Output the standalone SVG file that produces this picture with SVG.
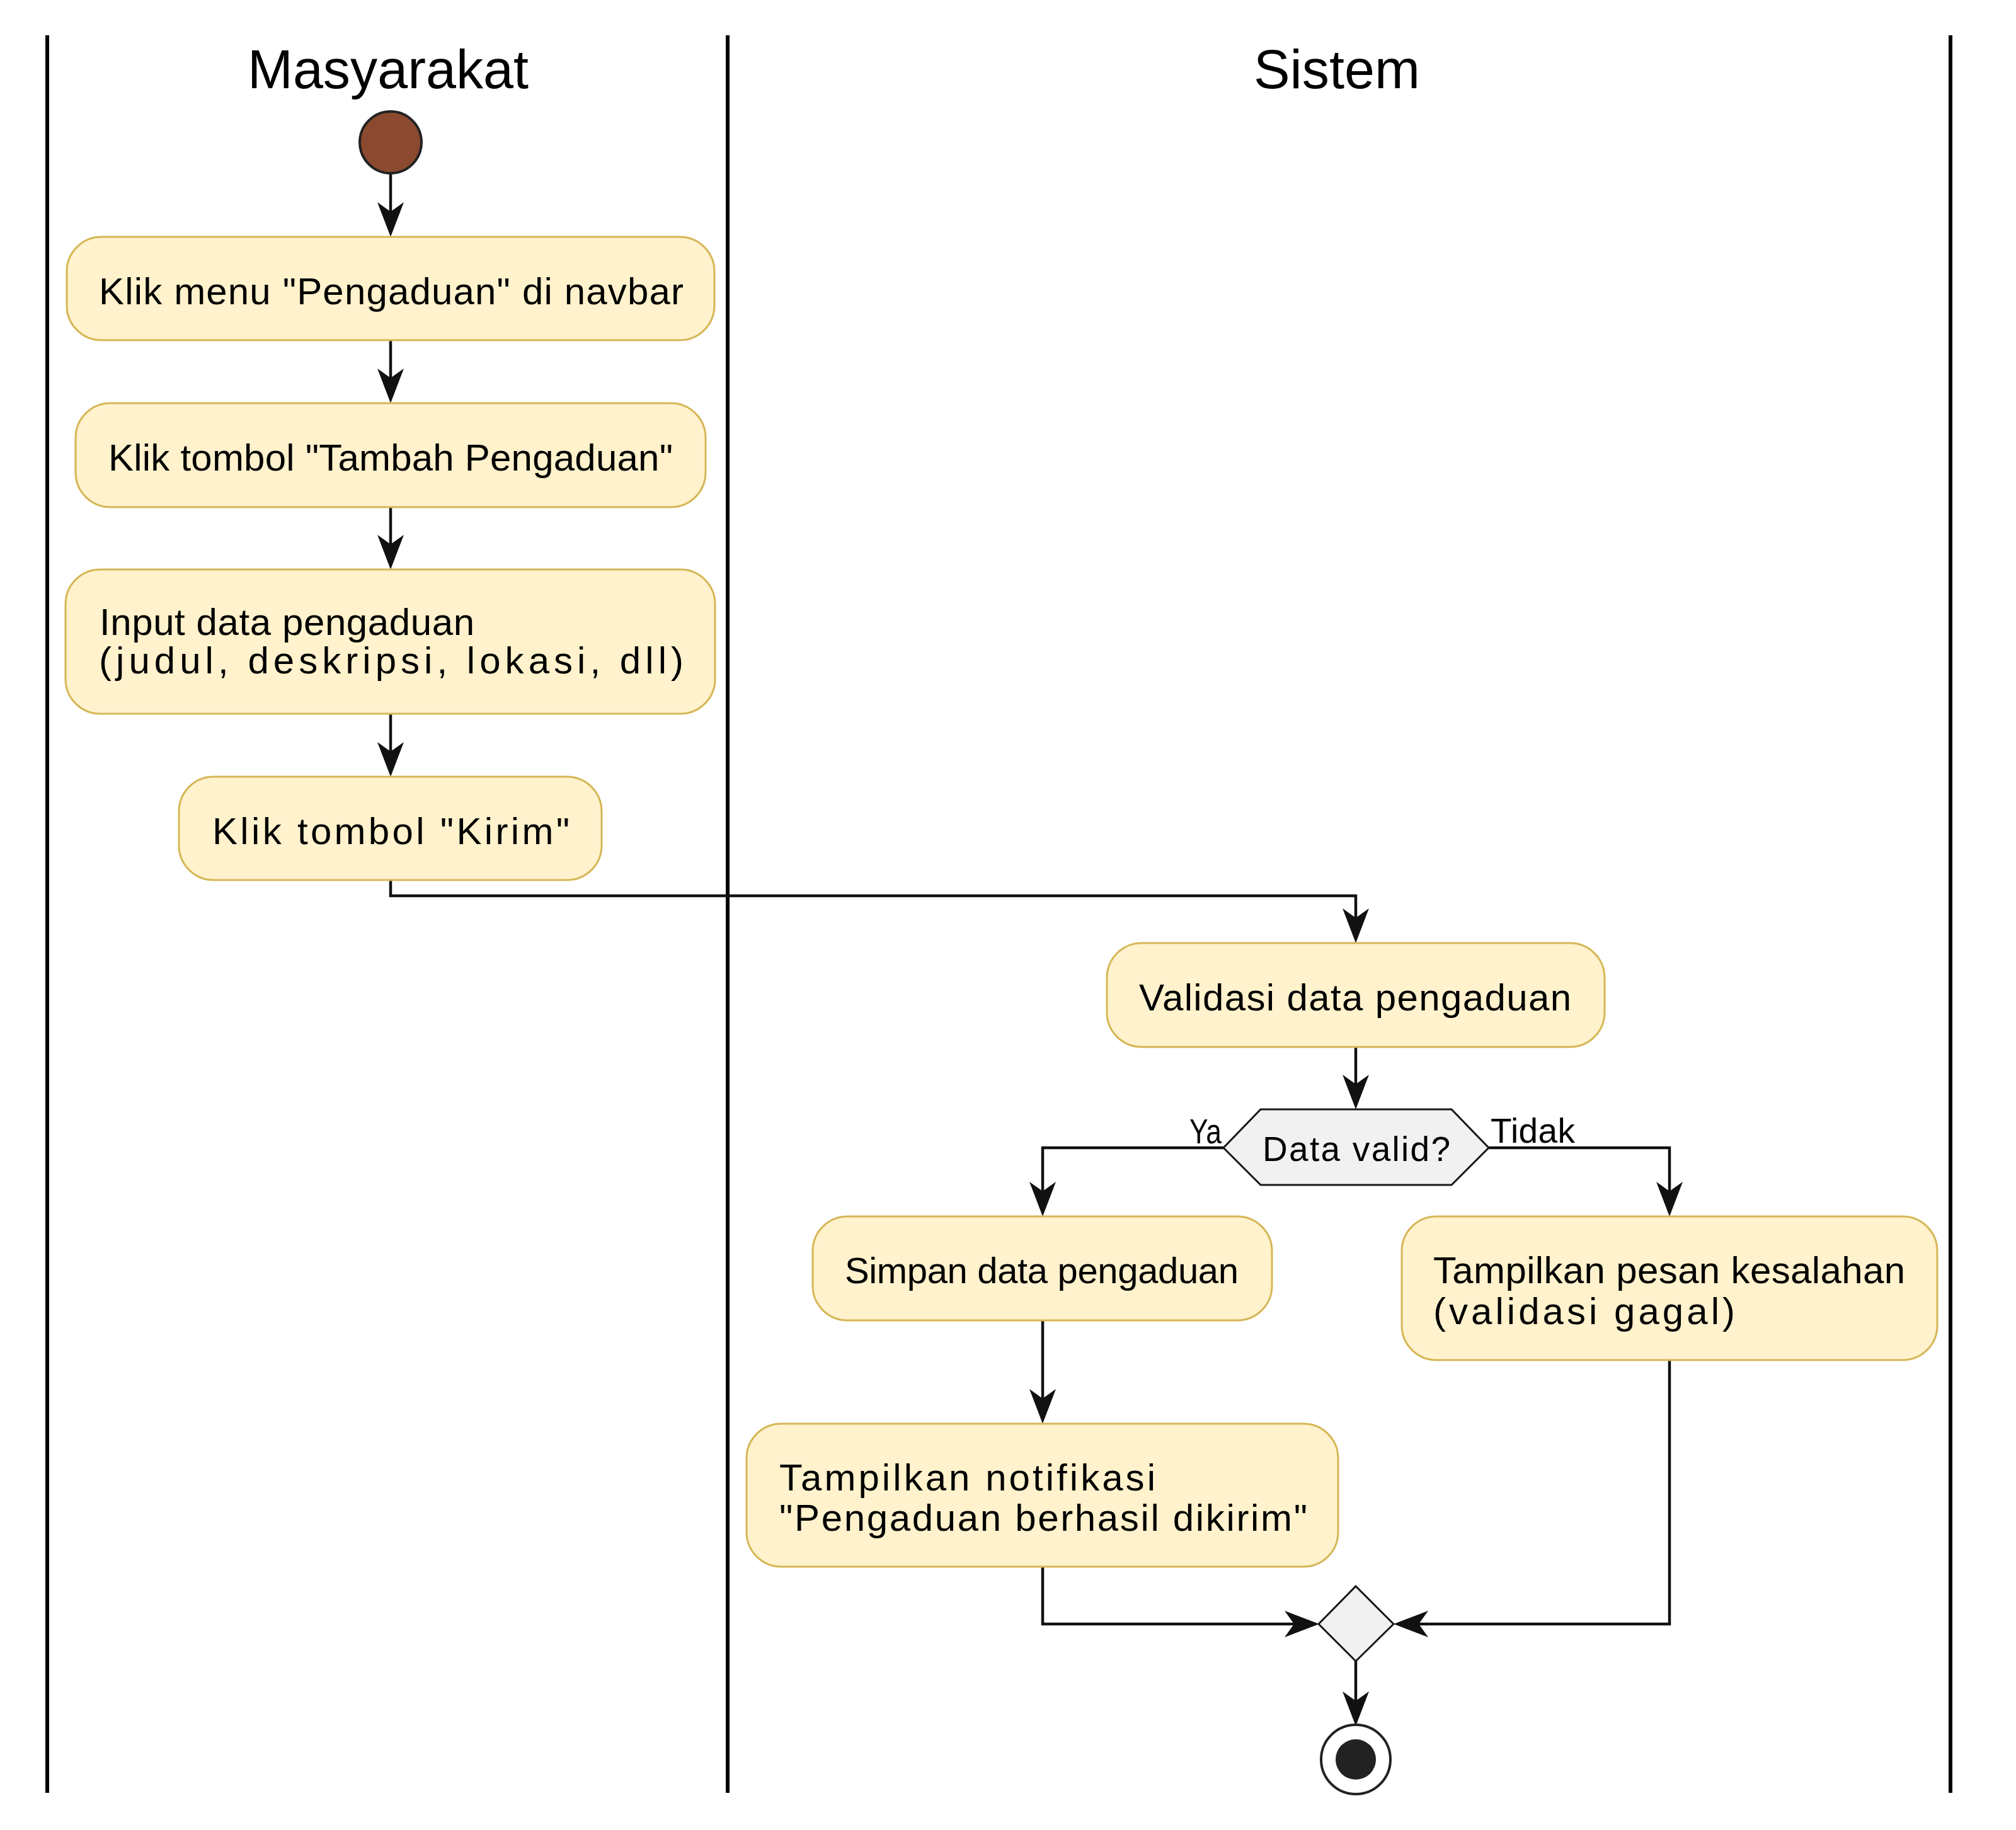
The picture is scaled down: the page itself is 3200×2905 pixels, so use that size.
<svg xmlns="http://www.w3.org/2000/svg" width="3200" height="2905" viewBox="0 0 3200 2905">
<style>
.lane{stroke:#000;stroke-width:6;fill:none}
.title{font-family:"Liberation Sans",Arial,sans-serif;font-size:88px;fill:#000}
.act{fill:#FFF2CC;stroke:#D6B656;stroke-width:3}
.dec{fill:#F1F1F1;stroke:#181818;stroke-width:3}
.t{font-family:"Liberation Sans",Arial,sans-serif;font-size:60px;fill:#000}
.s{font-family:"Liberation Sans",Arial,sans-serif;font-size:55px;fill:#000}
.edge{stroke:#111;stroke-width:4.5;fill:none;marker-end:url(#arr)}
</style>
<defs>
<marker id="arr" markerUnits="userSpaceOnUse" markerWidth="56" markerHeight="44" viewBox="0 0 56 44" refX="15" refY="22" orient="auto">
<path d="M0,1 L55,22 L0,43 L15,22 Z" fill="#111"/>
</marker>
</defs>
<rect width="3200" height="2905" fill="#fff"/>
<g id="lanes">
<line class="lane" x1="75" y1="56" x2="75" y2="2846"/>
<line class="lane" x1="1155" y1="56" x2="1155" y2="2846"/>
<line class="lane" x1="3096" y1="56" x2="3096" y2="2846"/>
<text class="title" x="393" y="140" textLength="446" lengthAdjust="spacingAndGlyphs">Masyarakat</text>
<text class="title" x="1990" y="140" textLength="264" lengthAdjust="spacingAndGlyphs">Sistem</text>
</g>
<g id="connectors">
<path class="edge" d="M620,277 L620,336"/>
<path class="edge" d="M620,540 L620,600"/>
<path class="edge" d="M620,805 L620,864"/>
<path class="edge" d="M620,1133 L620,1193"/>
<path class="edge" d="M620,1397 L620,1422 L2152,1422 L2152,1457"/>
<path class="edge" d="M2152,1662 L2152,1721"/>
<path class="edge" d="M1942,1822 L1655,1822 L1655,1891"/>
<path class="edge" d="M2363,1822 L2650,1822 L2650,1891"/>
<path class="edge" d="M1655,2096 L1655,2220"/>
<path class="edge" d="M1655,2487 L1655,2578 L2054,2578"/>
<path class="edge" d="M2650,2159 L2650,2578 L2252,2578"/>
<path class="edge" d="M2152,2637 L2152,2700"/>
<text class="s" x="1888" y="1815" textLength="51" lengthAdjust="spacingAndGlyphs">Ya</text>
<text class="s" x="2366" y="1814" textLength="134" lengthAdjust="spacing">Tidak</text>
</g>
<g id="start">
<circle cx="620" cy="226" r="49" fill="#8B4A30" stroke="#222" stroke-width="4"/>
</g>
<g id="a1">
<rect class="act" x="106" y="376" width="1028" height="164" rx="55" ry="55"/>
<text class="t" x="157" y="483" textLength="928" lengthAdjust="spacing">Klik menu "Pengaduan" di navbar</text>
</g>
<g id="a2">
<rect class="act" x="120" y="640" width="1000" height="165" rx="55" ry="55"/>
<text class="t" x="172" y="747" textLength="896" lengthAdjust="spacing">Klik tombol "Tambah Pengaduan"</text>
</g>
<g id="a3">
<rect class="act" x="104" y="904" width="1031" height="229" rx="55" ry="55"/>
<text class="t" x="158" y="1008" textLength="595" lengthAdjust="spacing">Input data pengaduan</text>
<text class="t" x="157" y="1069" textLength="928" lengthAdjust="spacing">(judul, deskripsi, lokasi, dll)</text>
</g>
<g id="a4">
<rect class="act" x="284" y="1233" width="671" height="164" rx="55" ry="55"/>
<text class="t" x="337" y="1340" textLength="567" lengthAdjust="spacing">Klik tombol "Kirim"</text>
</g>
<g id="a5">
<rect class="act" x="1757" y="1497" width="790" height="165" rx="55" ry="55"/>
<text class="t" x="1808" y="1604" textLength="686" lengthAdjust="spacing">Validasi data pengaduan</text>
</g>
<g id="d1">
<polygon class="dec" points="1942,1822 2001,1761 2304,1761 2363,1822 2304,1881 2001,1881"/>
<text class="s" x="2004" y="1843" textLength="298" lengthAdjust="spacing">Data valid?</text>
</g>
<g id="a6">
<rect class="act" x="1290" y="1931" width="729" height="165" rx="55" ry="55"/>
<text class="t" x="1341" y="2037" font-size="58" textLength="625" lengthAdjust="spacing" style="font-size:58px">Simpan data pengaduan</text>
</g>
<g id="a7">
<rect class="act" x="2225" y="1931" width="850" height="228" rx="55" ry="55"/>
<text class="t" x="2275" y="2037" textLength="749" lengthAdjust="spacing">Tampilkan pesan kesalahan</text>
<text class="t" x="2275" y="2102" textLength="479" lengthAdjust="spacing">(validasi gagal)</text>
</g>
<g id="a8">
<rect class="act" x="1185" y="2260" width="939" height="227" rx="55" ry="55"/>
<text class="t" x="1237" y="2366" textLength="597" lengthAdjust="spacing">Tampilkan notifikasi</text>
<text class="t" x="1237" y="2430" textLength="838" lengthAdjust="spacing">"Pengaduan berhasil dikirim"</text>
</g>
<g id="merge">
<polygon class="dec" points="2152,2518 2212,2578 2152,2637 2093,2578"/>
</g>
<g id="end">
<circle cx="2152" cy="2793" r="55" fill="#fff" stroke="#222" stroke-width="4"/>
<circle cx="2152" cy="2793" r="32" fill="#222"/>
</g>
</svg>
